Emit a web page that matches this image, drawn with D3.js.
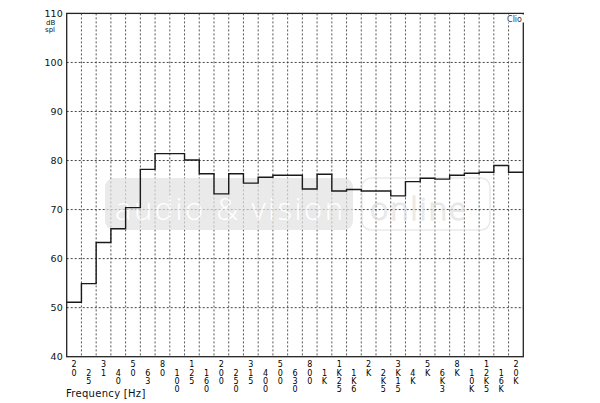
<!DOCTYPE html>
<html><head><meta charset="utf-8">
<script src="https://cdn.jsdelivr.net/npm/d3@7"></script>
<style>body{margin:0;background:#fff}svg{display:block}</style>
</head><body>
<svg id="c" width="600" height="403"></svg>
<script>
const bands = ["20","25","31","40","50","63","80","100","125","160","200","250","315","400","500","630","800","1K","1K25","1K6","2K","2K5","3K15","4K","5K","6K3","8K","10K","12K5","16K","20K"];
const levels = [51.1,54.9,63.3,66.1,70.4,78.2,81.4,81.4,80.1,77.3,73.2,77.3,75.4,76.6,77.0,77.0,74.2,77.2,73.8,74.1,73.8,73.8,72.8,75.7,76.4,76.2,77.0,77.4,77.6,79.0,77.6];
const yTicks = [40,50,60,70,80,90,100,110];

const svg = d3.select("#c");
const L = 66.7, R = 523.3, T = 13.4, B = 356.7;
const x = d3.scaleLinear().domain([0, bands.length]).range([L, R]);
const xb = d3.scaleBand().domain(bands).range([L, R]);
const y = d3.scaleLinear().domain([40, 110]).range([B, T]);
const font = "DejaVu Sans, sans-serif";

// grid
svg.append("g").selectAll("line").data(d3.range(1, bands.length)).join("line")
  .attr("x1", d => x(d)).attr("x2", d => x(d)).attr("y1", T).attr("y2", B)
  .attr("stroke", "#555").attr("stroke-width", 1).attr("stroke-dasharray", "2,2");
svg.append("g").selectAll("line").data(yTicks.slice(1, -1)).join("line")
  .attr("x1", L).attr("x2", R).attr("y1", d => y(d)).attr("y2", d => y(d))
  .attr("stroke", "#444").attr("stroke-width", 1).attr("stroke-dasharray", "2,2");

// watermark
const wm = svg.append("g").attr("opacity", 0.7);
wm.append("rect").attr("x", 105).attr("y", 178).attr("width", 248).attr("height", 52).attr("rx", 9)
  .attr("fill", "#e2e2e2");
wm.append("text").attr("x", 115).attr("y", 220).attr("font-family", "Open Sans, sans-serif")
  .attr("font-weight", 300).attr("font-size", 31).attr("fill", "#fff").attr("textLength", 228)
  .text("audio & vision");
wm.append("rect").attr("x", 362).attr("y", 178).attr("width", 128).attr("height", 52).attr("rx", 9)
  .attr("fill", "none").attr("stroke", "#e2e2e2").attr("stroke-width", 1.5);
wm.append("text").attr("x", 370).attr("y", 220).attr("font-family", "Open Sans, sans-serif")
  .attr("font-weight", 300).attr("font-size", 31).attr("fill", "#fff").attr("stroke", "#d8d8d8")
  .attr("stroke-width", 1).attr("textLength", 96).text("online");

// step line
const pts = levels.map((v, i) => [i, v]).concat([[levels.length, levels[levels.length - 1]]]);
svg.append("path").datum(pts)
  .attr("d", d3.line().x(d => x(d[0])).y(d => y(d[1])).curve(d3.curveStepAfter))
  .attr("fill", "none").attr("stroke", "#1a1a1a").attr("stroke-width", 1.4);

// frame
svg.append("rect").attr("x", L).attr("y", T).attr("width", R - L).attr("height", B - T)
  .attr("fill", "none").attr("stroke", "#222").attr("stroke-width", 1.3);

// Clio label
svg.append("rect").attr("x", 507).attr("y", 14.5).attr("width", 18).attr("height", 8).attr("fill", "#fff");
svg.append("text").attr("x", 522).attr("y", 22).attr("text-anchor", "end")
  .attr("font-family", font).attr("font-size", 8).attr("fill", "#333").text("Clio");

// y axis
const ya = svg.append("g").attr("transform", `translate(${L},0)`)
  .call(d3.axisLeft(y).tickValues(yTicks).tickSize(0).tickPadding(4));
ya.select(".domain").remove();
ya.selectAll("text").attr("font-family", font).attr("font-size", 9.5).attr("fill", "#111");
svg.append("text").attr("x", 46).attr("y", 25).attr("font-family", font).attr("font-size", 7).attr("fill", "#111").text("dB");
svg.append("text").attr("x", 45).attr("y", 31.5).attr("font-family", font).attr("font-size", 7).attr("fill", "#111").text("spl");

// x axis (stacked characters)
const xa = svg.append("g").attr("transform", `translate(0,${B})`)
  .call(d3.axisBottom(xb).tickSize(0).tickPadding(0));
xa.select(".domain").remove();
const pitch = 8.2;
xa.selectAll("text").each(function(d, i) {
  const t = d3.select(this);
  t.text(null).attr("font-family", font).attr("font-size", 8).attr("fill", "#000")
    .attr("dy", null).attr("y", 0).attr("text-anchor", "middle");
  const base = 10.8 + (i % 2) * pitch;
  d.split("").forEach((ch, k) => {
    t.append("tspan").attr("x", 0).attr("y", base + k * pitch).text(ch);
  });
});
svg.append("text").attr("x", 66).attr("y", 397).attr("font-family", font).attr("font-size", 10)
  .attr("letter-spacing", 0.3).attr("fill", "#111").text("Frequency [Hz]");
</script>
</body></html>
